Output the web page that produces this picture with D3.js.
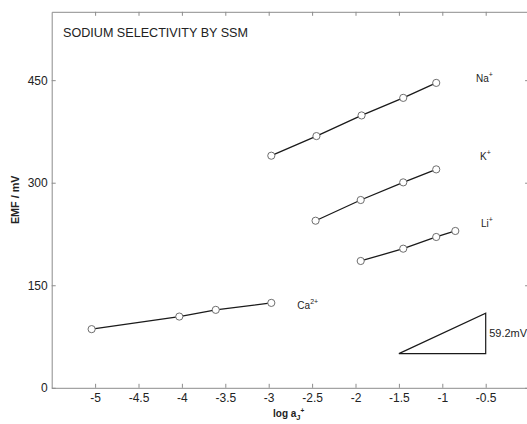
<!DOCTYPE html>
<html>
<head>
<meta charset="utf-8">
<script src="https://cdn.jsdelivr.net/npm/d3@7"></script>
<style>
  html, body { margin: 0; padding: 0; background: #fff; }
  svg { display: block; font-family: "Liberation Sans", Arial, Helvetica, sans-serif; }
</style>
</head>
<body>
<svg id="chart" width="527" height="424"></svg>
<script>
// log activity of the primary ion (x) and measured EMF in mV (y)
const naLogA = [-2.97, -2.45, -1.93, -1.45, -1.07];
const naEmf  = [339.5, 368.2, 398.4, 424.1, 446.0];
const kLogA  = [-2.46, -1.94, -1.45, -1.07];
const kEmf   = [244.4, 274.7, 300.5, 319.5];
const liLogA = [-1.94, -1.45, -1.07, -0.85];
const liEmf  = [185.5, 203.5, 220.6, 229.4];
const caLogA = [-5.04, -4.03, -3.61, -2.97];
const caEmf  = [85.8, 104.2, 114.0, 124.2];

// axis ticks
const xTicks = [-5, -4.5, -4, -3.5, -3, -2.5, -2, -1.5, -1, -0.5];
const yTicks = [0, 150, 300, 450];

// Nernstian slope reference: one decade vs 59.2 mV
const slopeDecade = [-1.5, -0.5];
const slopeBase = 50;
const slopeMv = 59.2;

const svg = d3.select("#chart");
const x = d3.scaleLinear().domain([-5.5, 0]).range([51.7, 529.1]);
const y = d3.scaleLinear().domain([0, 550]).range([387.8, 11.8]);

const axisColor = "#8c8c8c";
const textColor = "#222";
const plainNum = d => String(d);

function styleAxis(g, showLabels) {
  g.select(".domain").attr("stroke", axisColor).attr("stroke-width", 1);
  g.selectAll(".tick line").attr("stroke", axisColor).attr("stroke-width", 1);
  g.selectAll(".tick text")
    .attr("fill", textColor)
    .style("font-size", "12px")
    .style("display", showLabels ? null : "none");
}

// frame: bottom, top, left, right axes with inward ticks
svg.append("g")
  .attr("transform", `translate(0,${y(0)})`)
  .call(d3.axisBottom(x).tickValues(xTicks).tickSizeInner(-4).tickSizeOuter(0).tickPadding(6)
        .tickFormat(plainNum))
  .call(g => styleAxis(g, true));
svg.append("g")
  .attr("transform", `translate(0,${y(550)})`)
  .call(d3.axisTop(x).tickValues(xTicks).tickSizeInner(-4).tickSizeOuter(0))
  .call(g => styleAxis(g, false));
svg.append("g")
  .attr("transform", `translate(${x(-5.5)},0)`)
  .call(d3.axisLeft(y).tickValues(yTicks).tickSizeInner(-4).tickSizeOuter(0).tickPadding(4)
        .tickFormat(plainNum))
  .call(g => styleAxis(g, true));
svg.append("g")
  .attr("transform", `translate(${x(0)},0)`)
  .call(d3.axisRight(y).tickValues(yTicks).tickSizeInner(-4).tickSizeOuter(0))
  .call(g => styleAxis(g, false));

// title
svg.append("text")
  .attr("x", 63).attr("y", 37)
  .attr("fill", textColor)
  .style("font-size", "12.6px")
  .text("SODIUM SELECTIVITY BY SSM");

// axis titles
svg.append("text")
  .attr("transform", `translate(19,${(y(0) + y(550)) / 2}) rotate(-90)`)
  .attr("text-anchor", "middle")
  .attr("fill", textColor)
  .style("font-size", "10.8px").style("font-weight", "bold")
  .text("EMF / mV");

const xl = svg.append("text")
  .attr("x", 273).attr("y", 416.5)
  .attr("fill", textColor)
  .style("font-size", "10px").style("font-weight", "bold");
xl.append("tspan").text("log a");
xl.append("tspan").attr("dy", 3).style("font-size", "7.5px").text("J");
xl.append("tspan").attr("dy", -7).style("font-size", "6.5px").text("+");

// series
const series = [
  { xs: naLogA, ys: naEmf },
  { xs: kLogA,  ys: kEmf },
  { xs: liLogA, ys: liEmf },
  { xs: caLogA, ys: caEmf }
];
const line = d3.line().x(d => x(d[0])).y(d => y(d[1]));

series.forEach(s => {
  const pts = s.xs.map((v, i) => [v, s.ys[i]]);
  svg.append("path")
    .attr("d", line(pts))
    .attr("fill", "none")
    .attr("stroke", "#1a1a1a")
    .attr("stroke-width", 1.3);
  svg.selectAll(null).data(pts).enter().append("circle")
    .attr("cx", d => x(d[0]))
    .attr("cy", d => y(d[1]))
    .attr("r", 3.6)
    .attr("fill", "#fff")
    .attr("stroke", "#6e6e6e")
    .attr("stroke-width", 1);
});

// ion labels (position in data units)
const ionNames = ["Na", "K", "Li", "Ca"];
const ionCharges = ["+", "+", "+", "2+"];
const ionLabelAt = [[-0.612, 447.8], [-0.566, 333.2], [-0.554, 235.7], [-2.67, 115.3]];

ionNames.forEach((n, i) => {
  const t = svg.append("text")
    .attr("x", x(ionLabelAt[i][0]))
    .attr("y", y(ionLabelAt[i][1]))
    .attr("fill", textColor)
    .style("font-size", "10px");
  t.append("tspan").text(n);
  t.append("tspan").attr("dy", -5).style("font-size", "7px").text(ionCharges[i]);
});

// slope triangle
const tri = [
  [slopeDecade[0], slopeBase],
  [slopeDecade[1], slopeBase],
  [slopeDecade[1], slopeBase + slopeMv]
];
svg.append("path")
  .attr("d", line(tri) + "Z")
  .attr("fill", "none")
  .attr("stroke", "#1a1a1a")
  .attr("stroke-width", 1.2);
svg.append("text")
  .attr("x", x(slopeDecade[1]) + 3.5)
  .attr("y", y(slopeBase + slopeMv / 2) + 4)
  .attr("fill", textColor)
  .style("font-size", "11px")
  .text(slopeMv.toFixed(1) + "mV");
</script>
</body>
</html>
